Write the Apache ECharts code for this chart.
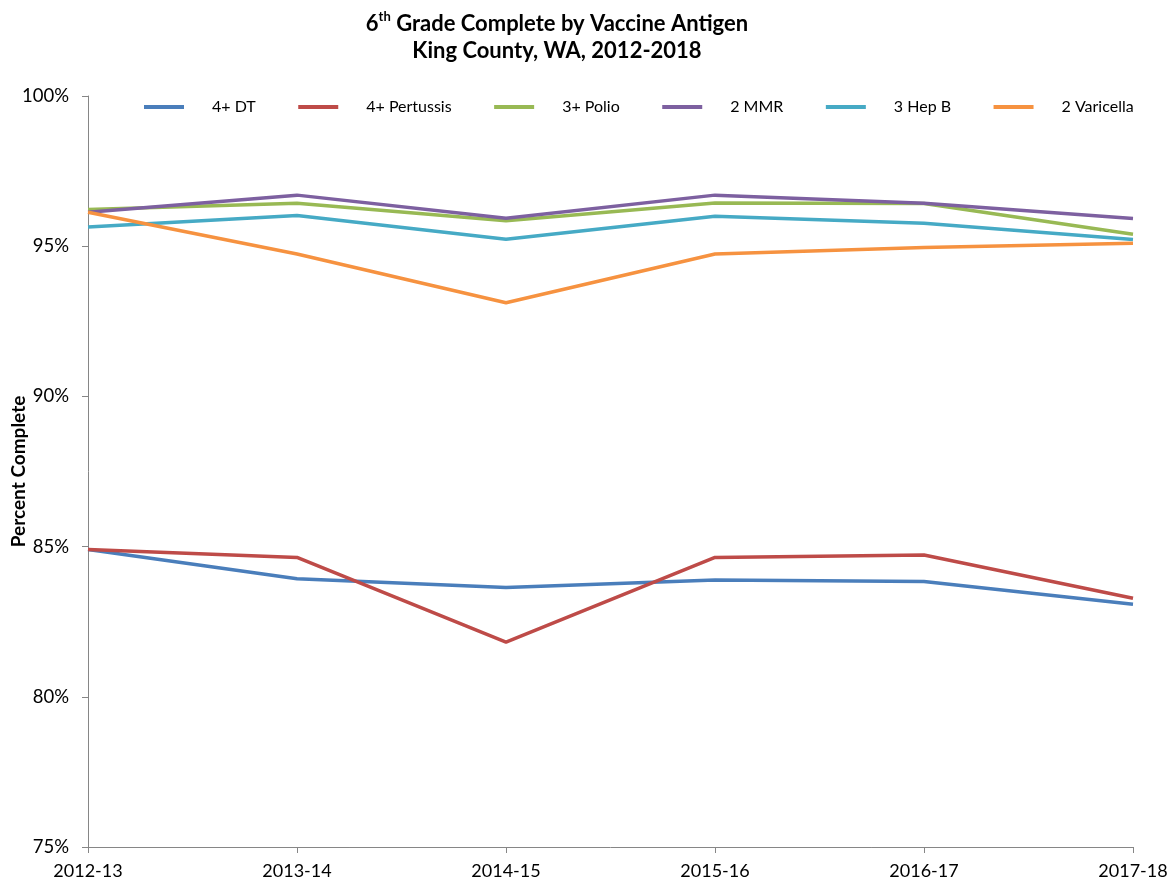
<!DOCTYPE html>
<html>
<head>
<meta charset="utf-8">
<script src="https://cdn.jsdelivr.net/npm/echarts@6/dist/echarts.min.js"></script>
<style>
  html, body { margin: 0; padding: 0; background: #fff; }
  #chart { width: 1175px; height: 886px; }
</style>
</head>
<body>
<div id="chart"></div>
<script>
// school years
var years = ['2012-13', '2013-14', '2014-15', '2015-16', '2016-17', '2017-18'];

// percent complete per antigen
var dt = [84.9, 83.93, 83.64, 83.89, 83.84, 83.08];
var pertussis = [84.9, 84.64, 81.82, 84.64, 84.72, 83.28];
var polio = [96.22, 96.43, 95.85, 96.44, 96.42, 95.40];
var mmr = [96.13, 96.70, 95.93, 96.70, 96.43, 95.92];
var hepB = [95.64, 96.02, 95.23, 96.0, 95.76, 95.22];
var varicella = [96.13, 94.74, 93.12, 94.74, 94.96, 95.10];

var seriesNames = ['4+ DT', '4+ Pertussis', '3+ Polio', '2 MMR', '3 Hep B', '2 Varicella'];
var seriesData = [dt, pertussis, polio, mmr, hepB, varicella];
var colors = ['#4A7EBB', '#BE4B48', '#98B954', '#7D60A0', '#46AAC5', '#F69240'];

var font = 'Lato, "Open Sans", sans-serif';

var series = [];
for (var i = 0; i < seriesNames.length; i++) {
    series.push({
        name: seriesNames[i],
        type: 'line',
        data: seriesData[i],
        showSymbol: false,
        symbol: 'none',
        lineStyle: { width: 3.5, color: colors[i] },
        itemStyle: { color: colors[i] }
    });
}

var myChart = echarts.init(document.getElementById('chart'));
myChart.setOption({
    animation: false,
    color: colors,
    title: {
        text: '{a|6}{sup|th}{a| Grade Complete by Vaccine Antigen}\n{a|King County, WA, 2012-2018}',
        left: 552,
        top: 5,
        textAlign: 'center',
        textStyle: {
            fontFamily: font,
            rich: {
                a: { fontSize: 22, fontWeight: 'bold', color: '#000', fontFamily: font, lineHeight: 27 },
                sup: { fontSize: 13, fontWeight: 'bold', color: '#000', fontFamily: font, verticalAlign: 'top', padding: [0, 0, 9, 0] }
            }
        }
    },
    legend: {
        left: 139,
        top: 94,
        icon: 'rect',
        itemWidth: 40,
        itemHeight: 4,
        itemGap: 42.5,
        data: seriesNames,
        textStyle: { fontFamily: font, fontSize: 16, color: '#000', padding: [0, 0, 0, 23] }
    },
    grid: { left: 88, right: 42, top: 96, bottom: 39, containLabel: false, outerBoundsMode: 'none' },
    xAxis: {
        type: 'category',
        data: years,
        boundaryGap: false,
        axisLine: { lineStyle: { color: '#868686', width: 1 } },
        axisTick: { show: true, length: 6, lineStyle: { color: '#868686' } },
        axisLabel: { fontFamily: font, fontSize: 18, color: '#000', margin: 15 }
    },
    yAxis: {
        type: 'value',
        min: 75,
        max: 100,
        interval: 5,
        name: 'Percent Complete',
        nameLocation: 'middle',
        nameGap: 60,
        nameMoveOverlap: false,
        nameTextStyle: { fontFamily: font, fontSize: 19, fontWeight: 'bold', color: '#000' },
        axisLine: { show: true, lineStyle: { color: '#868686', width: 1 } },
        axisTick: { show: true, length: 6, lineStyle: { color: '#868686' } },
        splitLine: { show: false },
        axisLabel: { fontFamily: font, fontSize: 18.5, color: '#000', margin: 19, formatter: '{value}%' }
    },
    series: series
});
</script>
</body>
</html>
